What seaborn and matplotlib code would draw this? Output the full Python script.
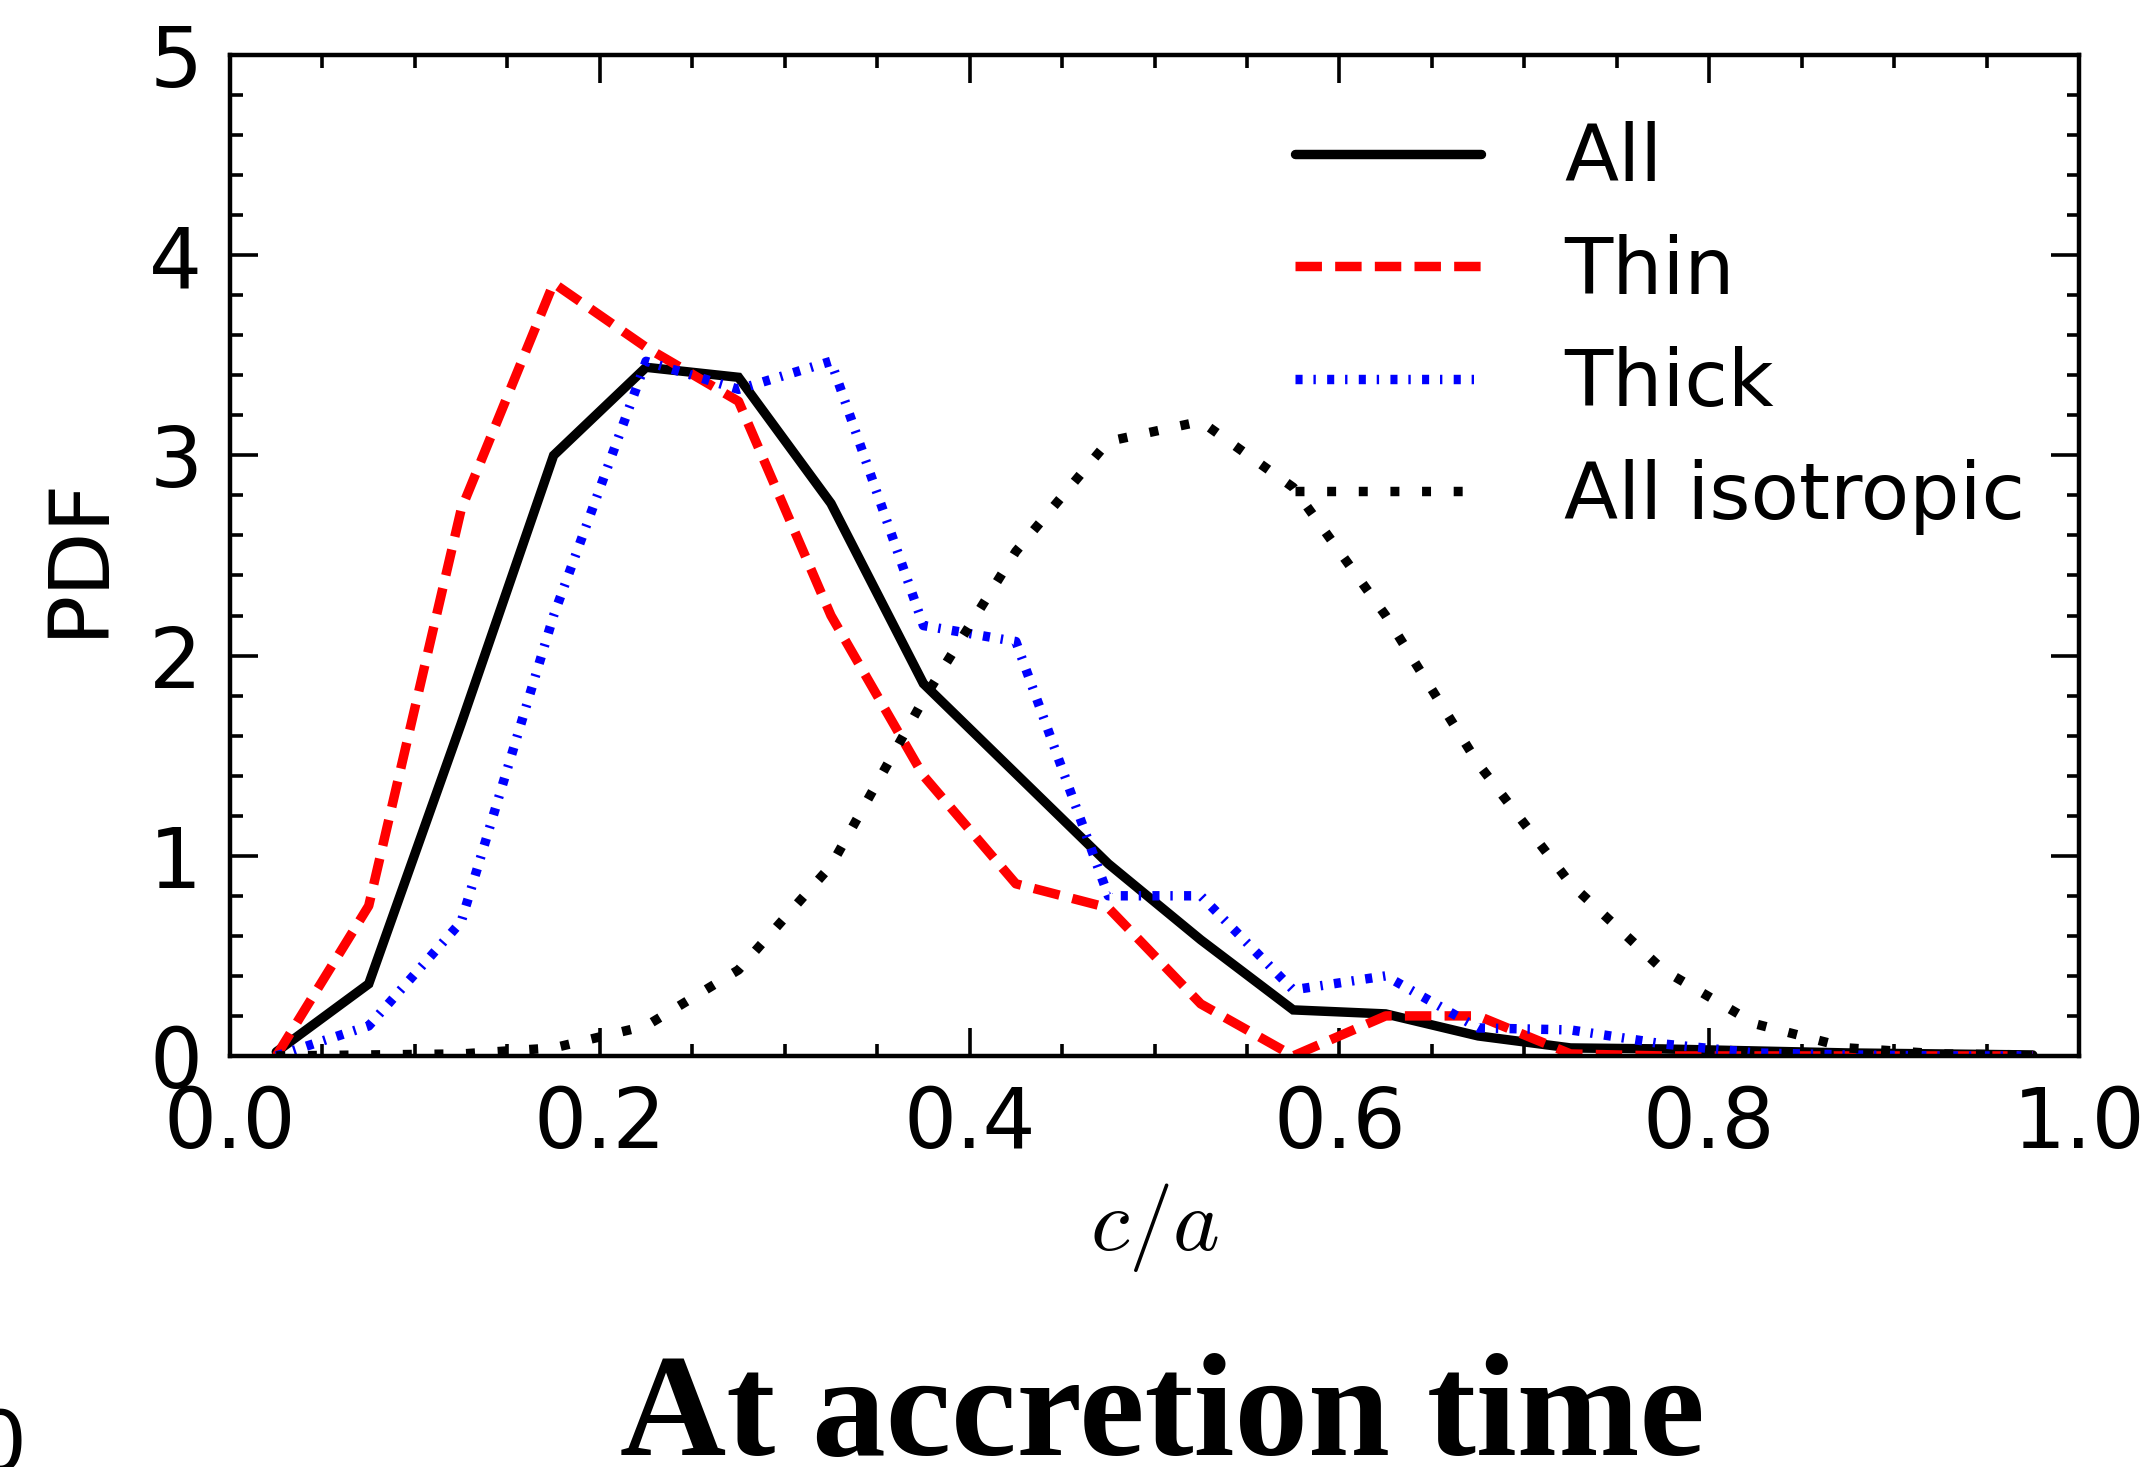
import matplotlib
matplotlib.use("Agg")
import matplotlib.pyplot as plt
import numpy as np
import pandas as pd
import seaborn as sns
from matplotlib.ticker import MultipleLocator

# ---------------- data ----------------
bin_centers = [0.025, 0.075, 0.125, 0.175, 0.225, 0.275, 0.325, 0.375, 0.425, 0.475,
               0.525, 0.575, 0.625, 0.675, 0.725, 0.775, 0.825, 0.875, 0.925, 0.975]
pdf_all = [0.02, 0.36, 1.66, 3.00, 3.44, 3.39, 2.76, 1.86, 1.41, 0.96,
           0.58, 0.23, 0.21, 0.10, 0.04, 0.035, 0.025, 0.015, 0.01, 0.005]
pdf_thin = [0.0, 0.75, 2.73, 3.86, 3.54, 3.27, 2.20, 1.40, 0.86, 0.74,
            0.26, 0.0, 0.20, 0.20, 0.01, 0.0, 0.0, 0.0, 0.0, 0.0]
pdf_thick = [0.0, 0.15, 0.67, 2.20, 3.47, 3.33, 3.47, 2.15, 2.07, 0.80,
             0.80, 0.33, 0.40, 0.14, 0.13, 0.06, 0.015, 0.005, 0.0, 0.0]
pdf_iso = [0.0, 0.005, 0.01, 0.04, 0.15, 0.43, 0.95, 1.78, 2.52, 3.07,
           3.17, 2.84, 2.20, 1.46, 0.86, 0.43, 0.16, 0.04, 0.01, 0.005]
series_labels = ["All", "Thin", "Thick", "All isotropic"]
x_ticks = [0.0, 0.2, 0.4, 0.6, 0.8, 1.0]
x_ticklabels = ["0.0", "0.2", "0.4", "0.6", "0.8", "1.0"]
y_ticks = [0, 1, 2, 3, 4, 5]
y_ticklabels = ["0", "1", "2", "3", "4", "5"]
x_label = r"$c/a$"
y_label = "PDF"
title_text = "At accretion time"

# ---------------- style ----------------
sns.set_theme(style="ticks", rc={
    "axes.edgecolor": "black", "text.color": "black",
    "xtick.color": "black", "ytick.color": "black",
    "axes.labelcolor": "black",
})
plt.rcParams["font.family"] = ["DejaVu Sans"]
plt.rcParams["mathtext.fontset"] = "cm"

df = pd.DataFrame({
    "c_over_a": bin_centers,
    "All": pdf_all,
    "Thin": pdf_thin,
    "Thick": pdf_thick,
    "All isotropic": pdf_iso,
})

fig = plt.figure(figsize=(10.78, 7.335), dpi=200)
ax = fig.add_axes([0.1067, 0.2802, 0.8576, 0.6823])

lw = 3.4
styles = {
    "All": dict(color="black", linestyle="-"),
    "Thin": dict(color="red", linestyle=(0, (2.8, 1.4))),
    "Thick": dict(color="blue", linestyle=(0, (0.75, 1.15, 0.25, 1.2))),
    "All isotropic": dict(color="black", linestyle=(0, (0.95, 2.4))),
}
for name in series_labels:
    sns.lineplot(data=df, x="c_over_a", y=name, ax=ax, lw=lw, label=name,
                 dash_capstyle="butt", solid_joinstyle="miter", **styles[name])

ax.set_xlim(0, 1)
ax.set_ylim(0, 5)
ax.set_xticks(x_ticks)
ax.set_xticklabels(x_ticklabels)
ax.set_yticks(y_ticks)
ax.set_yticklabels(y_ticklabels)
ax.xaxis.set_minor_locator(MultipleLocator(0.05))
ax.yaxis.set_minor_locator(MultipleLocator(0.2))
ax.tick_params(which="both", direction="in", top=True, right=True,
               labelsize=30, width=1.3, pad=10)
ax.tick_params(which="major", length=10)
ax.tick_params(which="minor", length=4.5)
for sp in ax.spines.values():
    sp.set_linewidth(1.6)
    sp.set_color("black")

ax.set_xlabel(x_label, fontsize=32, labelpad=6)
ax.set_ylabel(y_label, fontsize=30, labelpad=11)

leg = ax.legend(loc="upper right", frameon=False, fontsize=28.5,
                handlelength=2.35, handletextpad=1.05, labelspacing=0.46,
                borderaxespad=0.3, bbox_to_anchor=(1.001, 0.989))

fig.text(0.539, 0.008, title_text, ha="center", va="baseline",
         fontsize=53, fontweight="bold", family=["Liberation Serif", "DejaVu Serif"])
fig.text(0.0, -0.003, "0", ha="center", va="baseline", fontsize=30)

fig.savefig("out.png", dpi=200)
